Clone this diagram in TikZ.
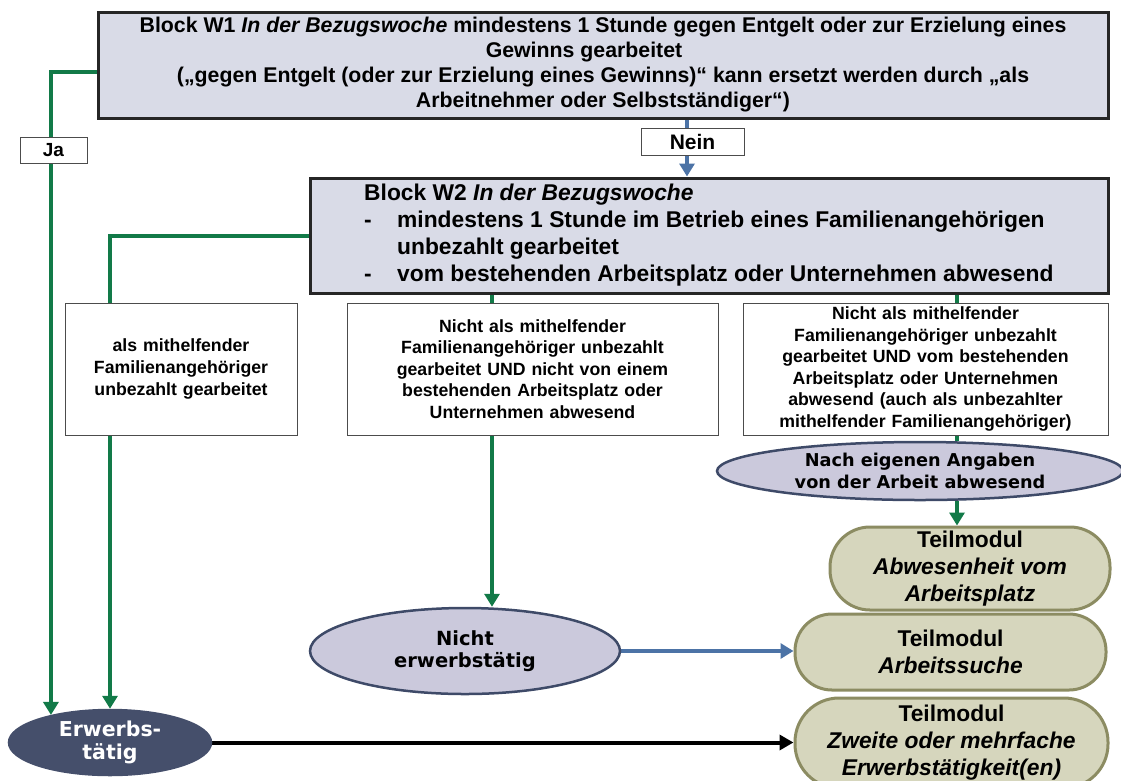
\documentclass[tikz,border=0pt]{standalone}
\usepackage{fontspec}
\setmainfont{Liberation Sans}
\newfontfamily\ovalfont{DejaVu Sans}
\usetikzlibrary{arrows.meta,shapes.geometric,backgrounds}

\definecolor{blockfill}{HTML}{D9DBE7}
\definecolor{ovalfill}{HTML}{CBC9DC}
\definecolor{ovaledge}{HTML}{3E4A68}
\definecolor{darkoval}{HTML}{454F6B}
\definecolor{modfill}{HTML}{D6D6BD}
\definecolor{modedge}{HTML}{8C8C62}
\definecolor{flowgreen}{HTML}{127A48}
\definecolor{flowblue}{HTML}{4C73A6}

\tikzset{
  blockbox/.style={draw=black!85, line width=3pt, fill=blockfill, inner sep=0pt},
  casebox/.style={draw=black!70, line width=1pt, fill=white, align=center, inner sep=0pt,
    font=\bfseries\fontsize{17.7}{21.6}\selectfont},
  tagbox/.style={draw=black!70, line width=1pt, fill=white, inner sep=0pt},
  stateoval/.style={ellipse, draw=ovaledge, line width=2.5pt, fill=ovalfill, inner sep=0pt,
    align=center, font=\ovalfont\bfseries\fontsize{19.5}{22.5}\selectfont},
  modulebox/.style={rectangle, draw=modedge, line width=3pt, fill=modfill, inner sep=0pt,
    align=center, font=\bfseries\fontsize{22.8}{27}\selectfont},
  gline/.style={draw=flowgreen, line width=4pt},
  garrow/.style={gline, -{Triangle[width=15pt,length=13pt]}},
  barrow/.style={draw=flowblue, line width=4pt, -{Triangle[width=15pt,length=13pt]}},
  karrow/.style={draw=black, line width=4pt, -{Triangle[width=15pt,length=14pt]}},
}

\begin{document}
\begin{tikzpicture}[x=1pt,y=-1pt]
\useasboundingbox (0,0) rectangle (1121,780);

% question blocks
\node[blockbox, minimum width=1010pt, minimum height=106pt, align=center,
      font=\bfseries\fontsize{21.3}{25}\selectfont] (w1) at (603,65)
  {Block W1 \textit{In der Bezugswoche} mindestens 1 Stunde gegen Entgelt oder zur Erzielung eines\\
   Gewinns gearbeitet\rule{38pt}{0pt}\\
   („gegen Entgelt (oder zur Erzielung eines Gewinns)“ kann ersetzt werden durch „als\\
   Arbeitnehmer oder Selbstständiger“)};

\node[blockbox, minimum width=798pt, minimum height=115pt] (w2) at (709,235.5) {};
\node[anchor=west, align=left, inner sep=0pt,
      font=\bfseries\fontsize{22.8}{27}\selectfont] (w2text) at (364,235.5)
  {Block W2 \textit{In der Bezugswoche}\\
   \makebox[33pt][l]{-}mindestens 1 Stunde im Betrieb eines Familienangehörigen\\
   \hspace*{33pt}unbezahlt gearbeitet\\
   \makebox[33pt][l]{-}vom bestehenden Arbeitsplatz oder Unternehmen abwesend};

% answer tags
\node[tagbox, minimum width=103pt, minimum height=27pt,
      font=\bfseries\fontsize{21}{24}\selectfont] (nein) at (692.5,141.5) {Nein};
\node[tagbox, minimum width=67pt, minimum height=26pt,
      font=\bfseries\fontsize{19}{22}\selectfont] (ja) at (53.5,150) {Ja};

% cases of block W2
\node[casebox, minimum width=232pt, minimum height=132pt, text width=222pt] (case1) at (181,369)
  {als mithelfender\\Familienangehöriger\\unbezahlt gearbeitet};
\node[casebox, minimum width=371pt, minimum height=132pt, text width=360pt] (case2) at (532.5,369)
  {Nicht als mithelfender\\Familienangehöriger unbezahlt\\gearbeitet UND nicht von einem\\bestehenden Arbeitsplatz oder\\Unternehmen abwesend};
\node[casebox, minimum width=365pt, minimum height=132pt, text width=355pt] (case3) at (925.5,369)
  {Nicht als mithelfender\\Familienangehöriger unbezahlt\\gearbeitet UND vom bestehenden\\Arbeitsplatz oder Unternehmen\\abwesend (auch als unbezahlter\\mithelfender Familienangehöriger)};

% status ovals
\node[stateoval, minimum width=406pt, minimum height=58pt,
      font=\ovalfont\bfseries\fontsize{17.7}{21.7}\selectfont] (absent) at (920,471)
  {Nach eigenen Angaben\\von der Arbeit abwesend};
\node[stateoval, minimum width=310pt, minimum height=86pt] (inactive) at (465,651)
  {Nicht\\erwerbstätig};
\node[stateoval, draw=darkoval, fill=darkoval, text=white, minimum width=202pt,
      minimum height=65pt, font=\ovalfont\bfseries\fontsize{20.5}{23}\selectfont] (employed) at (110,742.5)
  {Erwerbs-\\tätig};

% sub-modules
\node[modulebox, rounded corners=40pt, minimum width=280pt, minimum height=83pt] (mod1) at (970,568.5)
  {Teilmodul\\\textit{Abwesenheit vom}\\\textit{Arbeitsplatz}};
\node[modulebox, rounded corners=37pt, minimum width=311pt, minimum height=76pt] (mod2) at (950.5,652)
  {Teilmodul\\\textit{Arbeitssuche}};
\node[modulebox, rounded corners=44pt, minimum width=313pt, minimum height=90pt] (mod3) at (951.5,743)
  {Teilmodul\\\textit{Zweite oder mehrfache}\\\textit{Erwerbstätigkeit(en)}};

% connectors, behind the boxes
\coordinate (xnein) at (687,0);
\coordinate (xcase2) at (492,0);
\coordinate (xcase3) at (957,0);
\begin{scope}[on background layer]
  \draw[garrow] ([yshift=-7pt]w1.west) -| (employed.155);
  \draw[garrow] (w2.west) -| (employed.north);
  \draw[barrow] (w1.south -| xnein) -- (xnein |- w2.north);
  \draw[garrow] (w2.south -| xcase2) -- (xcase2 |- inactive.north);
  \draw[gline] (w2.south -| xcase3) -- (xcase3 |- absent.north);
  \draw[garrow] (xcase3 |- absent.south) -- (xcase3 |- mod1.north);
  \draw[barrow] (inactive.east) -- (inactive.east -| mod2.west);
  \draw[karrow] (employed.east) -- (employed.east -| mod3.west);
\end{scope}
\end{tikzpicture}
\end{document}
